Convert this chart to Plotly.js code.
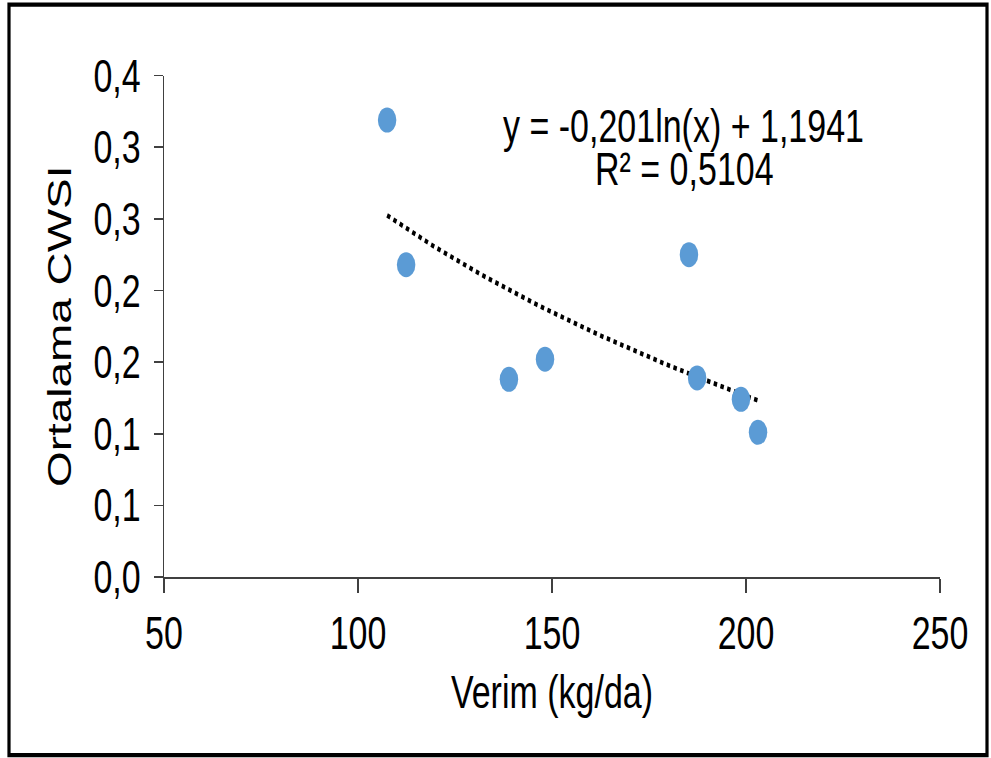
<!DOCTYPE html>
<html>
<head>
<meta charset="utf-8">
<script src="https://cdn.plot.ly/plotly-3.0.1.min.js"></script>
<style>
  html, body { margin: 0; padding: 0; background: #fff; }
  #wrap { width: 991px; height: 758px; position: relative; overflow: visible; }
  #chart { position: absolute; left: 0; top: 0; width: 991px; height: 561px; transform: scaleY(1.3512); transform-origin: 0 0; }
</style>
</head>
<body>
<div id="wrap"><div id="chart"></div></div>
<script>
// Data
const verim = [107.5, 112.4, 138.9, 148.2, 185.3, 187.4, 198.7, 203.1];
const cwsi  = [0.319, 0.218, 0.138, 0.152, 0.225, 0.139, 0.124, 0.101];
const yTickVals = [0, 0.05, 0.1, 0.15, 0.2, 0.25, 0.3, 0.35];
const yTickText = ["0,0", "0,1", "0,1", "0,2", "0,2", "0,3", "0,3", "0,4"];
const xTickVals = [50, 100, 150, 200, 250];
const xTickText = ["50", "100", "150", "200", "250"];
const eqLine1 = "y = -0,201ln(x) + 1,1941";
const eqLine2 = "R² = 0,5104";

// Logarithmic least-squares trendline fitted to the data
const lx = verim.map(Math.log);
const n = verim.length;
const mx = lx.reduce((a, b) => a + b, 0) / n;
const my = cwsi.reduce((a, b) => a + b, 0) / n;
let sxy = 0, sxx = 0;
for (let i = 0; i < n; i++) { sxy += (lx[i] - mx) * (cwsi[i] - my); sxx += (lx[i] - mx) ** 2; }
const slope = sxy / sxx, icpt = my - slope * mx;
const xmin = Math.min(...verim), xmax = Math.max(...verim);
const tx = [], ty = [];
for (let i = 0; i <= 60; i++) {
  const x = xmin + (xmax - xmin) * i / 60;
  tx.push(x); ty.push(icpt + slope * Math.log(x));
}

const FONT = '"Liberation Sans", Arial, sans-serif';
const FS = 34;

const traces = [
  {
    x: tx, y: ty, mode: 'lines', type: 'scatter',
    line: { color: '#000000', width: 3.5, dash: 'dot' },
    hoverinfo: 'skip', showlegend: false
  },
  {
    x: verim, y: cwsi, mode: 'markers', type: 'scatter',
    marker: { color: '#5B9BD5', size: 18.5, line: { width: 0 } },
    showlegend: false
  }
];

const layout = {
  width: 991, height: 561,
  paper_bgcolor: '#ffffff', plot_bgcolor: '#ffffff',
  margin: { l: 164, r: 51, t: 56, b: 134 },
  font: { family: FONT, size: FS, color: '#000000' },
  showlegend: false,
  xaxis: {
    range: [50, 250], tickvals: xTickVals, ticktext: xTickText,
    showgrid: false, zeroline: false, showline: true, linecolor: '#404040', linewidth: 1.2,
    ticks: 'outside', ticklen: 11, tickwidth: 1.5, tickcolor: '#404040',
    tickfont: { family: FONT, size: FS, color: '#000' },
    title: { text: 'Verim (kg/da)', font: { family: FONT, size: FS, color: '#000' }, standoff: 14 }
  },
  yaxis: {
    range: [0, 0.35], tickvals: yTickVals, ticktext: yTickText,
    showgrid: false, zeroline: false, showline: true, linecolor: '#404040', linewidth: 1.5,
    ticks: 'outside', ticklen: 9, tickwidth: 1.2, tickcolor: '#404040',
    ticklabelstandoff: 6,
    tickfont: { family: FONT, size: FS, color: '#000' },
    title: { text: 'Ortalama CWSI', font: { family: FONT, size: FS, color: '#000' }, standoff: 11 }
  },
  annotations: [
    {
      xref: 'paper', yref: 'paper', x: (683.5 - 164) / 776, y: (577 - 126) / 501,
      xanchor: 'center', yanchor: 'middle', showarrow: false,
      text: eqLine1, font: { family: FONT, size: FS, color: '#000' }
    },
    {
      xref: 'paper', yref: 'paper', x: (684.5 - 164) / 776, y: (577 - 169) / 501,
      xanchor: 'center', yanchor: 'middle', showarrow: false,
      text: eqLine2, font: { family: FONT, size: FS, color: '#000' }
    }
  ],
  shapes: [
    {
      type: 'rect', xref: 'paper', yref: 'paper',
      x0: -155 / 776, x1: (987 - 164) / 776,
      y0: (577 - 755) / 501, y1: (577 - 5) / 501,
      line: { color: '#000', width: 3.2 }, fillcolor: 'rgba(0,0,0,0)'
    }
  ]
};

Plotly.newPlot('chart', traces, layout, { displayModeBar: false, staticPlot: true });
</script>
</body>
</html>
